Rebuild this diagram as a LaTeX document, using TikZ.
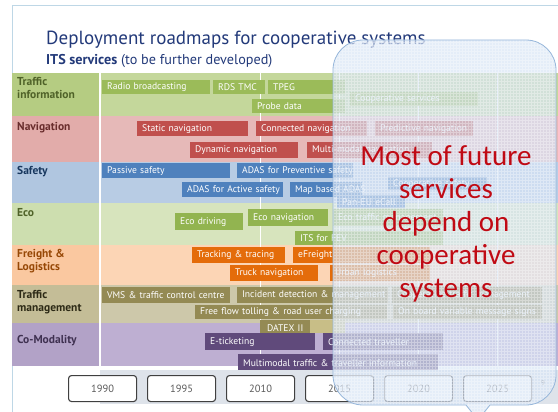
\documentclass[tikz,border=0pt]{standalone}
\usepackage{fontspec}
\setmainfont{PT Sans}
\newfontfamily\calloutfont{Carlito}
\definecolor{titleblue}{RGB}{35,58,122}
\definecolor{rowgreen}{RGB}{196,215,155}
\definecolor{cellgreen}{RGB}{181,204,130}
\definecolor{rowpink}{RGB}{230,185,184}
\definecolor{cellpink}{RGB}{226,172,170}
\definecolor{rowblue}{RGB}{184,204,228}
\definecolor{cellblue}{RGB}{176,198,224}
\definecolor{roweco}{RGB}{215,228,189}
\definecolor{celleco}{RGB}{205,222,175}
\definecolor{rowpeach}{RGB}{252,213,181}
\definecolor{cellpeach}{RGB}{250,200,160}
\definecolor{rowkhaki}{RGB}{205,200,170}
\definecolor{cellkhaki}{RGB}{196,189,151}
\definecolor{rowlav}{RGB}{190,175,210}
\definecolor{celllav}{RGB}{178,162,199}
\definecolor{bargreen}{RGB}{155,187,89}
\definecolor{barred}{RGB}{192,80,77}
\definecolor{barblue}{RGB}{79,129,189}
\definecolor{bareco}{RGB}{146,180,80}
\definecolor{barorange}{RGB}{228,108,10}
\definecolor{barkhaki}{RGB}{148,138,84}
\definecolor{lightkhaki}{RGB}{200,190,135}
\definecolor{barpurple}{RGB}{96,74,123}
\definecolor{labgreen}{RGB}{79,98,40}
\definecolor{labred}{RGB}{105,45,45}
\definecolor{labblue}{RGB}{23,55,94}
\definecolor{laborange}{RGB}{151,72,6}
\definecolor{labkhaki}{RGB}{45,42,22}
\definecolor{labpurple}{RGB}{63,49,81}
\definecolor{yeargrey}{RGB}{89,89,89}
\definecolor{boxgrey}{RGB}{64,64,64}
\definecolor{bandgrey}{RGB}{222,227,234}
\definecolor{calloutfill}{RGB}{216,229,246}
\definecolor{calloutline}{RGB}{150,182,218}
\definecolor{futurered}{RGB}{192,10,20}
\definecolor{slideedge}{RGB}{190,215,230}
\begin{document}
\begin{tikzpicture}[x=1pt, y=-1pt,
            rowlabel/.style={anchor=north west, inner sep=0pt, align=left, font=\bfseries\fontsize{11.5}{13.5}\selectfont},
            bar/.style={rectangle, anchor=north west, inner xsep=5pt, inner ysep=0pt, minimum height=14, align=left, text=white, font=\fontsize{9.6}{10}\selectfont},
            yearbox/.style={rectangle, rounded corners=3, draw=boxgrey, line width=1.1pt, fill=white, minimum width=68, minimum height=26, anchor=north west, text=yeargrey, font=\fontsize{10.5}{11}\selectfont},
        ]
            \useasboundingbox (0,0) rectangle (558,412);
            \fill[white] (0,0) rectangle (558,412);
            \draw[slideedge, line width=0.6pt] (12,412) -- (12,5) -- (558,5);
            \node[anchor=base west, inner sep=0pt, text=titleblue, font=\fontsize{19}{21}\selectfont](titlenode) at (46,45) {Deployment roadmaps for cooperative systems};
            \node[anchor=base west, inner sep=0pt, text=titleblue, font=\fontsize{14.2}{16}\selectfont](subtitlenode) at (46,65) {\textbf{ITS services} (to be further developed)};
            \fill[rowgreen] (12,73) rectangle (558,116);
            \fill[cellgreen] (12,73) rectangle (100,116);
            \fill[rowpink] (12,116) rectangle (558,162);
            \fill[cellpink] (12,116) rectangle (100,162);
            \fill[rowblue] (12,162) rectangle (558,203);
            \fill[cellblue] (12,162) rectangle (100,203);
            \fill[roweco] (12,203) rectangle (558,245);
            \fill[celleco] (12,203) rectangle (100,245);
            \fill[rowpeach] (12,245) rectangle (558,285);
            \fill[cellpeach] (12,245) rectangle (100,285);
            \fill[rowkhaki] (12,285) rectangle (558,323);
            \fill[cellkhaki] (12,285) rectangle (100,323);
            \fill[rowlav] (12,323) rectangle (558,366);
            \fill[celllav] (12,323) rectangle (100,366);
            \draw[white, line width=1.6pt] (100,73) -- (100,366);
            \foreach \x in {260,339,418,497}
                \draw[white, line width=0.8pt] (\x,73) -- (\x,366);
            \node[rowlabel, text=labgreen](trafficinfonode) at (17,77) {Traffic\\information};
            \node[rowlabel, text=labred](navigationnode) at (17,122) {Navigation};
            \node[rowlabel, text=labblue](safetynode) at (17,166) {Safety};
            \node[rowlabel, text=labgreen](ecolabelnode) at (17,208) {Eco};
            \node[rowlabel, text=laborange](freightnode) at (17,249) {Freight \&\\Logistics};
            \node[rowlabel, text=labkhaki](trafficmgmtnode) at (17,290) {Traffic\\management};
            \node[rowlabel, text=labpurple](comodalitynode) at (17,335) {Co-Modality};
            \node[bar, fill=bargreen, text width=98](radionode) at (102,80) {Radio broadcasting};
            \node[bar, fill=bargreen, text width=42](rdstmcnode) at (213,80) {RDS TMC};
            \node[bar, fill=bargreen, text width=67](tpegnode) at (268,80) {TPEG};
            \node[bar, fill=bargreen, text width=83](probenode) at (252,99) {Probe data};
            \node[bar, fill=bargreen, text width=118](coopservnode) at (350,92) {Cooperative services};
            \node[bar, fill=barred, minimum height=15, text width=101](staticnode) at (137,121) {Static navigation};
            \node[bar, fill=barred, minimum height=15, text width=101](connectednode) at (256,121) {Connected navigation};
            \node[bar, fill=barred, minimum height=15, text width=88](predictivenode) at (375,121) {Predictive navigation};
            \node[bar, fill=barred, minimum height=16, text width=98](dynamicnode) at (190,142) {Dynamic navigation};
            \node[bar, fill=barred, minimum height=16, text width=115](multinavnode) at (307,142) {Multi-modal navigation};
            \node[bar, fill=barblue, minimum height=15, text width=118](passivenode) at (102,163) {Passive safety};
            \node[bar, fill=barblue, minimum height=15, inner xsep=3pt, text width=110](preventivenode) at (237,163) {\mbox{\hspace{2pt}ADAS for Preventive safety}};
            \node[bar, fill=barblue, minimum height=15, inner xsep=3pt, text width=95](activenode) at (182,182) {\hspace{2pt}ADAS for Active safety};
            \node[bar, fill=barblue, minimum height=15, inner xsep=3pt, text width=66](mapbasednode) at (290,182) {\mbox{\hspace{2pt}Map based ADAS}};
            \node[bar, fill=barblue, minimum height=13, text width=89](coopsafetynode) at (388,177) {Cooperative safety};
            \node[bar, fill=barblue, minimum height=13, text width=58](ecallnode) at (337,195) {Pan-EU eCall};
            \node[bar, fill=bareco, minimum height=17, text width=58](ecodrivingnode) at (175,213) {Eco driving};
            \node[bar, fill=bareco, minimum height=17, text width=70](econavnode) at (248,209) {Eco navigation};
            \node[bar, fill=bareco, minimum height=17, inner xsep=3pt, text width=104](ecotrafficnode) at (333,209) {\mbox{\hspace{2pt}Eco traffic management}};
            \node[bar, fill=bareco, minimum height=14, text width=138](itsfevnode) at (295,231) {ITS for FEV};
            \node[bar, fill=barorange, minimum height=16, text width=83](trackingnode) at (192,247) {Tracking \& tracing};
            \node[bar, fill=barorange, minimum height=16, text width=127](efreightnode) at (293,247) {eFreight};
            \node[bar, fill=barorange, minimum height=16, text width=78](trucknode) at (230,265) {Truck navigation};
            \node[bar, fill=barorange, minimum height=16, text width=90](urbannode) at (330,265) {Urban logistics};
            \fill[lightkhaki] (310,320) rectangle (345,333);
            \node[bar, fill=barkhaki, minimum height=16, text width=118](vmsnode) at (102,287) {VMS \& traffic control centre};
            \node[bar, fill=barkhaki, minimum height=16, text width=141](incidentnode) at (237,287) {\mbox{Incident detection \& management}};
            \node[bar, fill=barkhaki, minimum height=16, text width=140](cooptrafficnode) at (392,287) {\mbox{Cooperative traffic management}};
            \node[bar, fill=barkhaki, minimum height=14, text width=182](tollingnode) at (195,305) {Free flow tolling \& road user charging};
            \node[bar, fill=barkhaki, minimum height=14, text width=139](onboardnode) at (393,305) {\mbox{On board variable message signs}};
            \node[bar, fill=barkhaki, minimum height=15, text width=40, align=center](datexnode) at (260,320) {DATEX II};
            \node[bar, fill=barpurple, minimum height=17, text width=100](eticketnode) at (205,333) {E-ticketing};
            \node[bar, fill=barpurple, minimum height=17, text width=110](conntravnode) at (323,333) {Connected traveller};
            \node[bar, fill=barpurple, minimum height=17, text width=190](multimodalnode) at (238,354) {Multimodal traffic \& traveller information};
            \fill[bandgrey] (100,370) rectangle (558,404);
            \node[yearbox](y1990node) at (68,375) {1990};
            \node[yearbox](y1995node) at (147,375) {1995};
            \node[yearbox](y2010node) at (226,375) {2010};
            \node[yearbox](y2015node) at (305,375) {2015};
            \node[yearbox](y2020node) at (384,375) {2020};
            \node[yearbox](y2025node) at (463,375) {2025};
            \node[text=yeargrey, font=\fontsize{7}{8}\selectfont](pagenode) at (543,383) {9};
            \begin{scope}
                \path[clip] (333,70) arc[start angle=180, end angle=90, x radius=30, y radius=-30] -- (526,40) arc[start angle=90, end angle=0, x radius=30, y radius=-30] -- (556,375) arc[start angle=0, end angle=-90, x radius=30, y radius=-30] -- (490,405) -- (478,420) -- (466,405) -- (363,405) arc[start angle=-90, end angle=-180, x radius=30, y radius=-30] -- cycle;
                \fill[calloutfill, fill opacity=0.68] (330,35) rectangle (560,420);
                \draw[white, opacity=0.35, line width=0.3pt, step=3pt] (330,35) grid (560,420);
            \end{scope}
            \draw[calloutline, line width=0.8pt] (333,70) arc[start angle=180, end angle=90, x radius=30, y radius=-30] -- (526,40) arc[start angle=90, end angle=0, x radius=30, y radius=-30] -- (556,375) arc[start angle=0, end angle=-90, x radius=30, y radius=-30] -- (490,405) -- (478,420) -- (466,405) -- (363,405) arc[start angle=-90, end angle=-180, x radius=30, y radius=-30] -- cycle;
            \node[text=futurered, align=center, font=\calloutfont\fontsize{29}{33}\selectfont](futurenode) at (446,224) {Most of future\\services\\depend on\\cooperative\\systems};
        \end{tikzpicture}
\end{document}
